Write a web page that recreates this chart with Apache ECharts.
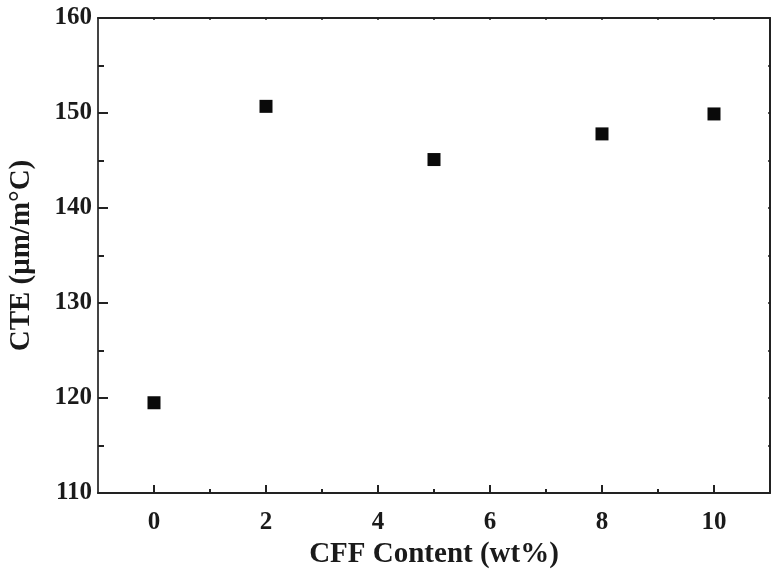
<!DOCTYPE html>
<html>
<head>
  <meta charset="utf-8" />
  <style>
    html, body { margin: 0; width: 100%; height: 100%; background: #fff; }
    #main { width: 782px; height: 580px; }
  </style>
  <script src="https://cdn.jsdelivr.net/npm/echarts@6/dist/echarts.min.js"></script>
</head>
<body>
<div id="main"></div>
<script>
  // CFF content (wt%) and measured CTE
  var cffContent = [0, 2, 5, 8, 10];
  var cteValues = [119.5, 150.7, 145.1, 147.8, 149.9];

  var xMajor = [0, 2, 4, 6, 8, 10];
  var xMinor = [1, 3, 5, 7, 9];
  var xAll = [0, 1, 2, 3, 4, 5, 6, 7, 8, 9, 10];

  var font = '"Liberation Serif", "DejaVu Serif", serif';
  var lineColor = '#222';

  var chart = echarts.init(document.getElementById('main'));

  var points = cffContent.map(function (x, i) { return [x, cteValues[i]]; });

  var option = {
    animation: false,
    backgroundColor: '#fff',
    grid: { left: 98, right: 12, top: 18, bottom: 87, containLabel: false, outerBoundsMode: 'none' },
    xAxis: [
      {
        type: 'value', min: -1, max: 11, position: 'bottom',
        name: 'CFF Content (wt%)', nameLocation: 'middle', nameGap: 46,
        nameTextStyle: { fontFamily: font, fontWeight: 'bold', fontSize: 29, color: '#1a1a1a' },
        axisLine: { show: true, onZero: false, lineStyle: { color: lineColor, width: 2 } },
        axisTick: { show: true, inside: true, length: 8, customValues: xMajor, lineStyle: { color: lineColor, width: 2 } },
        axisLabel: { customValues: xMajor, margin: 17, fontFamily: font, fontWeight: 'bold', fontSize: 25, color: '#1a1a1a' },
        splitLine: { show: false }
      },
      {
        type: 'value', min: -1, max: 11, position: 'bottom', gridIndex: 0,
        axisLine: { show: false, onZero: false },
        axisTick: { show: true, inside: true, length: 4, customValues: xMinor, lineStyle: { color: lineColor, width: 2 } },
        axisLabel: { show: false },
        splitLine: { show: false }
      },
      {
        type: 'value', min: -1, max: 11, position: 'top',
        axisLine: { show: true, onZero: false, lineStyle: { color: lineColor, width: 2 } },
        axisTick: { show: true, inside: true, length: 2, customValues: xAll, lineStyle: { color: lineColor, width: 1.5 } },
        axisLabel: { show: false },
        splitLine: { show: false }
      }
    ],
    yAxis: [
      {
        type: 'value', min: 110, max: 160, interval: 10, position: 'left',
        name: 'CTE (μm/m°C)', nameLocation: 'middle', nameGap: 62, nameRotate: 90,
        nameTextStyle: { fontFamily: font, fontWeight: 'bold', fontSize: 29, color: '#1a1a1a' },
        axisLine: { show: true, onZero: false, lineStyle: { color: '#444', width: 2 } },
        axisTick: { show: true, inside: true, length: 10, lineStyle: { color: lineColor, width: 2 } },
        minorTick: { show: true, splitNumber: 2, length: 6, lineStyle: { color: lineColor, width: 2 } },
        axisLabel: { margin: 6, fontFamily: font, fontWeight: 'bold', fontSize: 25, color: '#1a1a1a' },
        splitLine: { show: false }
      },
      {
        type: 'value', min: 110, max: 160, interval: 5, position: 'right',
        axisLine: { show: true, onZero: false, lineStyle: { color: lineColor, width: 2 } },
        axisTick: { show: true, inside: true, length: 2, lineStyle: { color: lineColor, width: 1.5 } },
        axisLabel: { show: false },
        splitLine: { show: false }
      }
    ],
    series: [
      {
        type: 'scatter',
        xAxisIndex: 0,
        yAxisIndex: 0,
        symbol: 'rect',
        symbolSize: 13,
        itemStyle: { color: '#0a0a0a', opacity: 1 },
        data: points
      }
    ]
  };

  chart.setOption(option);
</script>
</body>
</html>
